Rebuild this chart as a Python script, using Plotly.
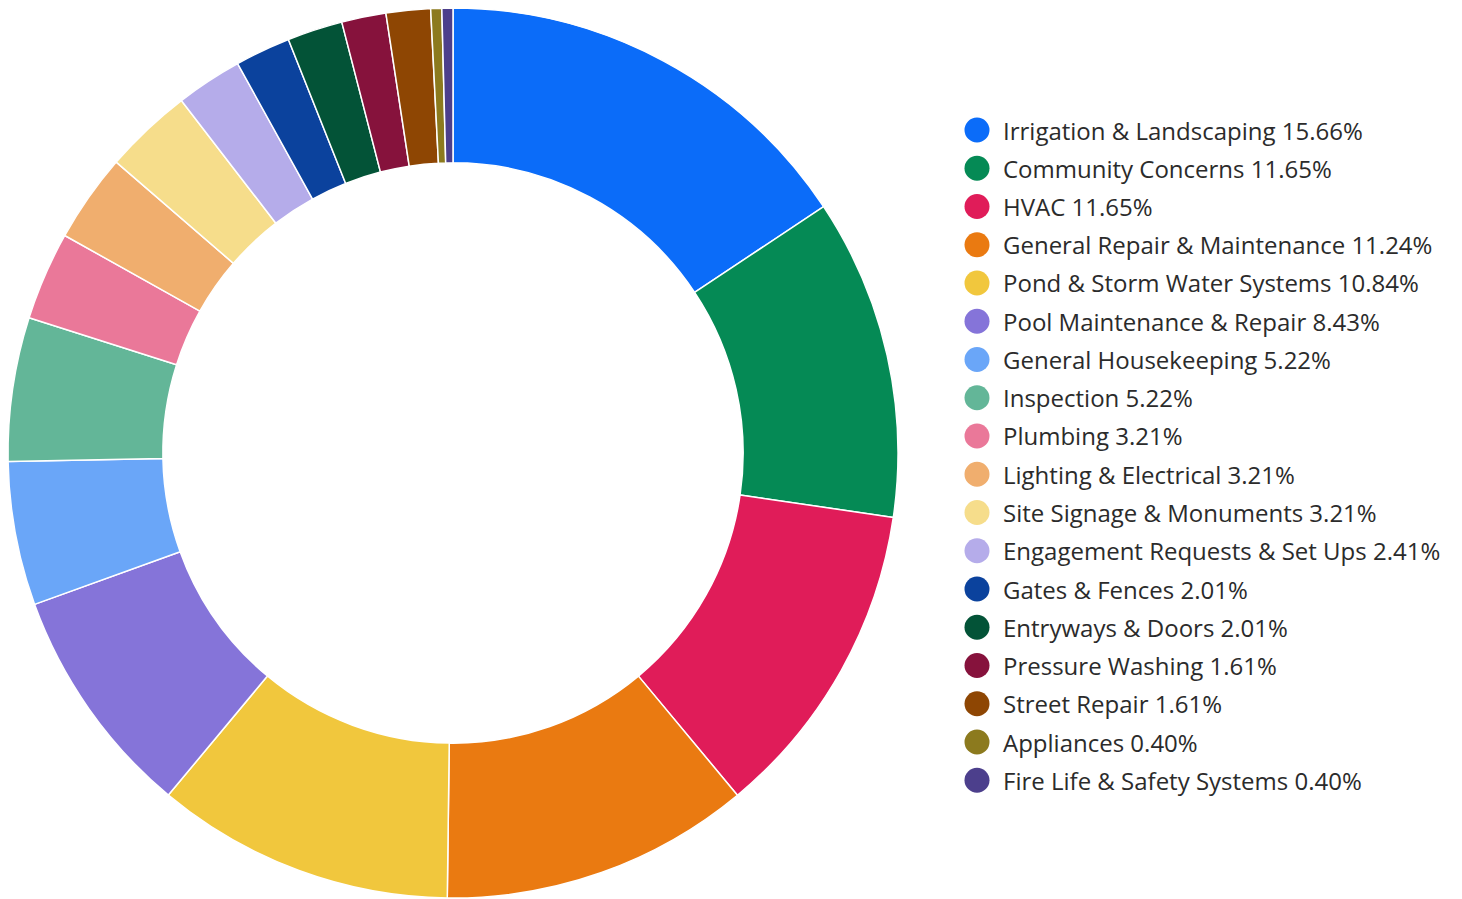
import plotly.graph_objects as go

W, H = 1462, 899

categories = [
    "Irrigation & Landscaping", "Community Concerns", "HVAC",
    "General Repair & Maintenance", "Pond & Storm Water Systems",
    "Pool Maintenance & Repair", "General Housekeeping", "Inspection",
    "Plumbing", "Lighting & Electrical", "Site Signage & Monuments",
    "Engagement Requests & Set Ups", "Gates & Fences", "Entryways & Doors",
    "Pressure Washing", "Street Repair", "Appliances",
    "Fire Life & Safety Systems",
]
percents = [15.66, 11.65, 11.65, 11.24, 10.84, 8.43, 5.22, 5.22,
            3.21, 3.21, 3.21, 2.41, 2.01, 2.01, 1.61, 1.61, 0.40, 0.40]
colors = [
    "#0b6cf9", "#058a55", "#e01c59", "#ea7a11", "#f1c73d", "#8574d9",
    "#6aa6f8", "#63b698", "#ea7899", "#f0ae6e", "#f6dd8b", "#b5acea",
    "#0b429d", "#035337", "#86123c", "#8e4603", "#8c7a1e", "#4c3f8c",
]

fig = go.Figure()
fig.add_trace(go.Pie(
    labels=categories, values=percents, sort=False, direction="clockwise",
    rotation=0, hole=0.652, textinfo="none", showlegend=False,
    marker=dict(colors=colors, line=dict(color="white", width=1.5)),
    domain=dict(x=[8 / W, 898 / W], y=[1 - 898 / H, 1 - 8 / H]),
))

# custom legend with circular markers
y_first, y_step = 130, 38.25
cx, r = 977, 12.5
tx = 1001
shapes, annotations = [], []
for i, (name, p, c) in enumerate(zip(categories, percents, colors)):
    yc = y_first + i * y_step
    shapes.append(dict(type="circle", xref="paper", yref="paper",
                       x0=(cx - r) / W, x1=(cx + r) / W,
                       y0=1 - (yc + r) / H, y1=1 - (yc - r) / H,
                       fillcolor=c, line=dict(width=0)))
    annotations.append(dict(xref="paper", yref="paper", x=tx / W, y=1 - yc / H,
                            xanchor="left", yanchor="middle", showarrow=False,
                            text=f"{name} {p:.2f}%",
                            font=dict(family="Open Sans", size=24, color="#2b2b2b")))

fig.update_layout(
    width=W, height=H, margin=dict(l=0, r=0, t=0, b=0),
    paper_bgcolor="white", plot_bgcolor="white",
    shapes=shapes, annotations=annotations,
)
fig.write_html("out.html")
